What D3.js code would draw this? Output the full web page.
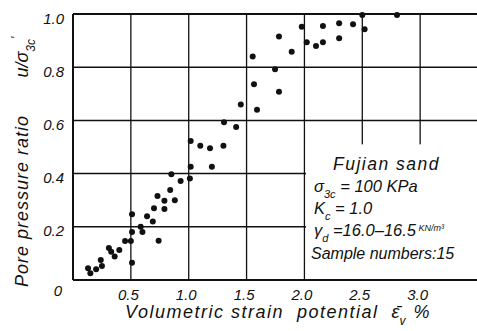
<!DOCTYPE html>
<html>
<head>
<meta charset="utf-8">
<script src="https://cdn.jsdelivr.net/npm/d3@7"></script>
<style>
  body { margin: 0; background: #fff; }
  svg { display: block; }
  text { font-family: "Liberation Sans", "DejaVu Sans", sans-serif; font-style: italic; fill: #111; }
</style>
</head>
<body>
<svg id="chart" width="477" height="331"></svg>
<script>
// data
var strain = [0.13, 0.15, 0.20, 0.24, 0.25, 0.31, 0.33, 0.36, 0.40, 0.45, 0.50, 0.51, 0.51, 0.51,
  0.585, 0.60, 0.64, 0.69, 0.70, 0.74, 0.73, 0.79, 0.79, 0.84, 0.88, 0.85, 0.93, 1.01, 1.017, 1.20,
  1.017, 1.10, 1.184, 1.30, 1.305, 1.41, 1.45, 1.59, 1.553, 1.564, 1.746, 1.78, 1.78, 1.89, 1.977,
  2.02, 2.10, 2.16, 2.16, 2.30, 2.30, 2.42, 2.50, 2.52, 2.80];
var ratio = [0.044, 0.025, 0.04, 0.075, 0.053, 0.12, 0.106, 0.088, 0.113, 0.147, 0.147, 0.065, 0.18, 0.247,
  0.20, 0.18, 0.24, 0.22, 0.27, 0.148, 0.316, 0.298, 0.267, 0.338, 0.30, 0.398, 0.372, 0.382, 0.426, 0.426,
  0.523, 0.505, 0.495, 0.505, 0.593, 0.575, 0.66, 0.64, 0.84, 0.736, 0.792, 0.708, 0.915, 0.858, 0.952,
  0.894, 0.88, 0.894, 0.955, 0.965, 0.909, 0.961, 0.996, 0.943, 0.996];
var xTicks = [0.5, 1.0, 1.5, 2.0, 2.5, 3.0];
var xTickLabels = ["0.5", "1.0", "1.5", "2.0", "2.5", "3.0"];
var yTicks = [0, 0.2, 0.4, 0.6, 0.8, 1.0];
var yTickLabels = ["0", "0.2", "0.4", "0.6", "0.8", "1.0"];

var svg = d3.select("#chart");
var x = d3.scaleLinear().domain([0, 3.5]).range([73, 478]);
var y = d3.scaleLinear().domain([0, 1]).range([280, 14]);

var grid = svg.append("g").attr("stroke", "#111").attr("fill", "none");

// horizontal grid lines
grid.selectAll(".hg").data(yTicks.filter(function(d) { return d > 0; }))
  .enter().append("line")
  .attr("x1", x(0)).attr("x2", x(3.5))
  .attr("y1", function(d) { return y(d); }).attr("y2", function(d) { return y(d); })
  .attr("stroke-width", function(d) { return d == 1 ? 1.8 : 1.5; });

// vertical grid lines
grid.selectAll(".vg").data(xTicks)
  .enter().append("line")
  .attr("x1", function(d) { return x(d); }).attr("x2", function(d) { return x(d); })
  .attr("y1", y(0)).attr("y2", y(1))
  .attr("stroke-width", 1.3);

// blank legend area
svg.append("rect")
  .attr("x", x(2.0) + 1.5).attr("y", y(0.51))
  .attr("width", x(3.5) - x(2.0)).attr("height", y(0) - y(0.51) - 1)
  .attr("fill", "#fff");

// small stubs left where lines are cut
grid.selectAll(".hs").data([0.2, 0.4])
  .enter().append("line")
  .attr("x1", x(2.0)).attr("x2", x(2.0) + 4)
  .attr("y1", function(d) { return y(d); }).attr("y2", function(d) { return y(d); })
  .attr("stroke-width", 1.3);
grid.selectAll(".vs").data([2.5, 3.0])
  .enter().append("line")
  .attr("x1", function(d) { return x(d); }).attr("x2", function(d) { return x(d); })
  .attr("y1", y(0)).attr("y2", y(0) - 5)
  .attr("stroke-width", 1.3);

// axes
svg.append("line").attr("x1", x(0)).attr("x2", x(0)).attr("y1", y(0)).attr("y2", y(1))
  .attr("stroke", "#111").attr("stroke-width", 2);
svg.append("line").attr("x1", x(0)).attr("x2", x(3.5)).attr("y1", y(0)).attr("y2", y(0))
  .attr("stroke", "#111").attr("stroke-width", 2);

var xAxis = svg.append("g").attr("transform", "translate(0," + y(0) + ")")
  .call(d3.axisBottom(x).tickValues(xTicks).tickSize(0).tickPadding(9)
    .tickFormat(function(d, i) { return xTickLabels[i]; }));
xAxis.select(".domain").remove();
xAxis.selectAll("text").attr("font-size", 15).attr("dx", -3);

var yAxis = svg.append("g").attr("transform", "translate(" + x(0) + ",0)")
  .call(d3.axisLeft(y).tickValues(yTicks).tickSize(0).tickPadding(9)
    .tickFormat(function(d, i) { return yTickLabels[i]; }));
yAxis.select(".domain").remove();
yAxis.selectAll("text").attr("font-size", 15).attr("dy", "0.6em");
yAxis.selectAll(".tick").filter(function(d) { return d == 0; }).select("text").attr("dy", "1.0em").attr("x", -11);

// points
svg.append("g").selectAll("circle").data(strain)
  .enter().append("circle")
  .attr("cx", function(d) { return x(d); })
  .attr("cy", function(d, i) { return y(ratio[i]); })
  .attr("r", 3)
  .attr("fill", "#111");

// axis titles
svg.append("text").attr("transform", "translate(28,201) rotate(-90)")
  .attr("text-anchor", "middle").attr("font-size", 18).attr("letter-spacing", 1)
  .text("Pore pressure ratio");
var yt = svg.append("text").attr("transform", "translate(28,57) rotate(-90)")
  .attr("text-anchor", "middle").attr("font-size", 18);
yt.append("tspan").text("u/σ");
yt.append("tspan").attr("font-size", 12).attr("baseline-shift", "sub").text("3c");
yt.append("tspan").attr("font-size", 13).attr("dy", -8).text("′");

var xt = svg.append("text").attr("x", 278).attr("y", 318)
  .attr("text-anchor", "middle").attr("font-size", 18).attr("letter-spacing", 1.5)
  .attr("xml:space", "preserve");
xt.append("tspan").text("Volumetric strain  potential  ");
xt.append("tspan").attr("letter-spacing", 0).text("ε\u0304");
xt.append("tspan").attr("font-size", 12).attr("baseline-shift", "sub").text("v");
xt.append("tspan").text(" %");

// legend
var lg = svg.append("g").attr("font-size", 16.5);
lg.append("text").attr("x", 333).attr("y", 170).attr("font-size", 17.5).attr("letter-spacing", 1.5).text("Fujian sand");
var l2 = lg.append("text").attr("x", 314).attr("y", 192);
l2.append("tspan").text("σ");
l2.append("tspan").attr("font-size", 11).attr("baseline-shift", "sub").text("3c");
l2.append("tspan").text(" = 100 KPa");
var l3 = lg.append("text").attr("x", 314).attr("y", 214);
l3.append("tspan").text("K");
l3.append("tspan").attr("font-size", 11).attr("baseline-shift", "sub").text("c");
l3.append("tspan").text(" = 1.0");
var l4 = lg.append("text").attr("x", 314).attr("y", 236);
l4.append("tspan").text("γ");
l4.append("tspan").attr("font-size", 11).attr("baseline-shift", "sub").text("d");
l4.append("tspan").text(" =16.0–16.5");
l4.append("tspan").attr("font-size", 9).attr("baseline-shift", "super").text(" KN/m³");
lg.append("text").attr("x", 311).attr("y", 259).attr("font-size", 16).text("Sample numbers:15");
</script>
</body>
</html>
